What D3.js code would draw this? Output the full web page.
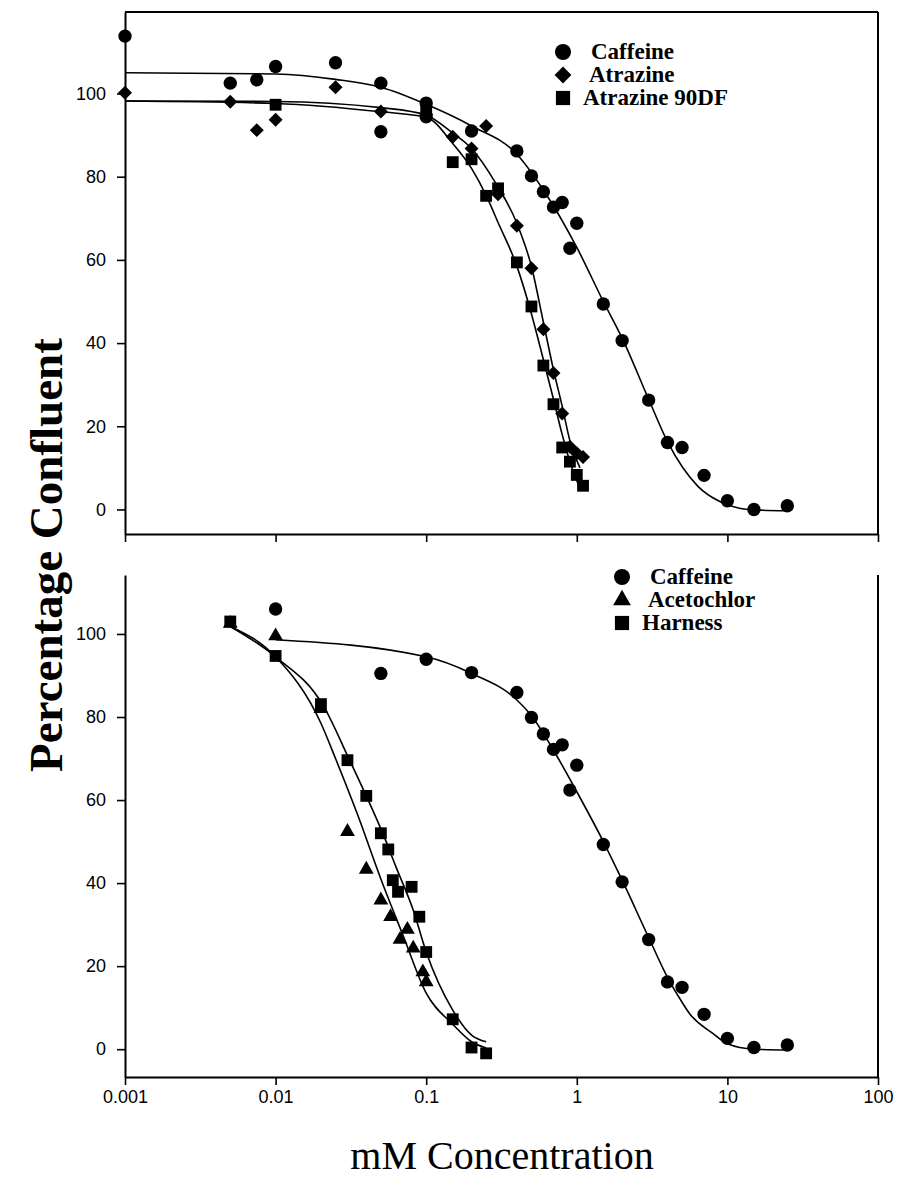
<!DOCTYPE html>
<html>
<head>
<meta charset="utf-8">
<script src="https://cdn.jsdelivr.net/npm/d3@7/dist/d3.min.js"></script>
<style>
  body { margin: 0; background: #fff; }
  svg { display: block; }
  .axis .domain { stroke: #000; stroke-width: 2; }
  .axis .tick line { stroke: #000; stroke-width: 1.6; }
  .axis .tick text { font-family: 'Liberation Sans', Arial, sans-serif; font-size: 18px; fill: #000; }
  .border { stroke: #000; stroke-width: 2; fill: none; }
  .fit { fill: none; stroke: #000; stroke-width: 1.6; }
  .legend text { font-family: 'Liberation Serif', 'Times New Roman', serif; font-weight: bold; font-size: 23px; fill: #000; }
  .title { font-family: 'Liberation Serif', 'Times New Roman', serif; fill: #000; }
</style>
</head>
<body>
<div id="chart"></div>
<script>
// axis ticks
const xTicks = [0.001, 0.01, 0.1, 1, 10, 100]
const xTickLabels = ['0.001', '0.01', '0.1', '1', '10', '100']
const yTicks = [0, 20, 40, 60, 80, 100]

// top panel: [mM, % confluent]
const topCaffeine = [[0.001, 113.8], [0.005, 102.5], [0.0075, 103.3], [0.01, 106.5], [0.025, 107.4],
	[0.05, 102.5], [0.05, 90.8], [0.1, 97.7], [0.1, 94.4], [0.2, 91.0], [0.4, 86.2], [0.5, 80.2],
	[0.6, 76.4], [0.7, 72.7], [0.8, 73.8], [0.9, 62.8], [1, 68.8], [1.5, 49.4], [2, 40.6], [3, 26.3],
	[4, 16.1], [5, 14.9], [7, 8.2], [10, 2.1], [15, 0], [25, 0.9]]
const topAtrazine = [[0.001, 100.2], [0.005, 98], [0.0075, 91.2], [0.01, 93.7], [0.025, 101.5],
	[0.05, 95.7], [0.1, 95], [0.15, 89.6], [0.2, 86.8], [0.25, 92.2], [0.3, 75.8], [0.4, 68.2],
	[0.5, 58], [0.6, 43.3], [0.7, 32.8], [0.8, 23.1], [0.9, 15.1], [1.0, 13.5], [1.1, 12.6]]
const topAtrazine90DF = [[0.01, 97.3], [0.1, 96], [0.15, 83.5], [0.2, 84.2], [0.25, 75.4], [0.3, 77.2],
	[0.4, 59.4], [0.5, 48.8], [0.6, 34.6], [0.7, 25.3], [0.8, 14.9], [0.9, 11.5], [1.0, 8.3], [1.1, 5.7]]

// fitted curves
const topCaffeineFit = [[0.001, 105], [0.01, 104.7], [0.025, 103.4], [0.05, 101.5], [0.1, 97.4],
	[0.2, 92.2], [0.4, 85.4], [0.6, 76.8], [1, 63], [1.5, 50], [2, 41.2], [3, 26.5], [4, 16.3],
	[6.4, 5.5], [8.9, 1.9], [12, 0.3], [15, -0.1], [25, -0.3]]
const topAtrazineFit = [[0.001, 98.2], [0.01, 98.1], [0.05, 96.6], [0.1, 94.8], [0.15, 90.5],
	[0.2, 86.8], [0.29, 78.4], [0.4, 68.8], [0.5, 58.4], [0.6, 45], [0.7, 33.6], [0.8, 24.8],
	[0.9, 16.5], [1.05, 10]]
const topAtrazine90DFFit = [[0.001, 98.2], [0.01, 97.6], [0.05, 95.6], [0.1, 94.3], [0.15, 88],
	[0.2, 82], [0.25, 75.5], [0.3, 69], [0.4, 58.5], [0.5, 47], [0.6, 36], [0.7, 26.5], [0.8, 18],
	[0.9, 11.5], [1.05, 5]]

// bottom panel
const bottomCaffeine = [[0.01, 106], [0.05, 90.5], [0.1, 93.9], [0.2, 90.7], [0.4, 85.9], [0.5, 79.9],
	[0.6, 75.9], [0.7, 72.2], [0.8, 73.3], [0.9, 62.4], [1, 68.4], [1.5, 49.3], [2, 40.3], [3, 26.4],
	[4, 16.2], [5, 14.9], [7, 8.4], [10, 2.6], [15, 0.4], [25, 1]]
const bottomAcetochlor = [[0.005, 102.5], [0.01, 99.5], [0.02, 82], [0.03, 52.4], [0.04, 43.3],
	[0.05, 35.9], [0.058, 31.9], [0.067, 26.4], [0.075, 28.8], [0.082, 24.3], [0.095, 18.6], [0.1, 16.2]]
const bottomHarness = [[0.005, 103], [0.01, 94.7], [0.02, 83.1], [0.03, 69.6], [0.04, 61], [0.05, 52],
	[0.056, 48.1], [0.06, 40.7], [0.065, 37.9], [0.08, 39.1], [0.09, 31.9], [0.1, 23.4], [0.15, 7.2],
	[0.2, 0.4], [0.25, -1]]

const bottomCaffeineFit = [[0.01, 98.6], [0.1, 94.5], [0.2, 90.5], [0.4, 84.1], [0.5, 80.3], [0.7, 72],
	[1, 62], [1.5, 50], [2, 40.7], [3, 26.9], [4, 17.3], [5, 11.3], [5.6, 8.6], [8, 3.8], [10, 1.3],
	[15, 0], [25, -0.2]]
const bottomAcetochlorFit = [[0.005, 101.8], [0.01, 94.5], [0.02, 78.5], [0.025, 70], [0.035, 56.5],
	[0.05, 41], [0.07, 27.5], [0.1, 13.5], [0.15, 6], [0.2, 1.8], [0.25, 0.3]]
const bottomHarnessFit = [[0.005, 101.8], [0.01, 94.5], [0.0206, 82.9], [0.031, 69.6], [0.04, 61],
	[0.052, 51.6], [0.063, 43.9], [0.082, 33.5], [0.1, 23.4], [0.15, 9.4], [0.2, 3.4], [0.25, 1.8]]

const topLegend = ['Caffeine', 'Atrazine', 'Atrazine 90DF']
const bottomLegend = ['Caffeine', 'Acetochlor', 'Harness']

const width = 902
const height = 1178

const scaleX = d3.scaleLog().domain([0.001, 100]).range([125, 878])
const scaleYTop = d3.scaleLinear().domain([-5.9, 119.6]).range([534, 12])
const scaleYBottom = d3.scaleLinear().domain([-6.7, 114.2]).range([1077, 575])

const markers = {
	circle: { path: d3.symbol(d3.symbolCircle, 140)(), rotate: 0 },
	diamond: { path: d3.symbol(d3.symbolSquare, 98)(), rotate: 45 },
	square: { path: d3.symbol(d3.symbolSquare, 140)(), rotate: 0 },
	triangle: { path: d3.symbol(d3.symbolTriangle, 95)(), rotate: 0 },
}

const svg = d3.select('#chart').append('svg')
	.attr('width', width)
	.attr('height', height)

function translate(x, y) {
	return `translate(${x}, ${y})`
}

function drawPanel({ scaleY, series, fits, legend, legendPos, showLabels, topBorder }) {
	const [x0, x1] = scaleX.range()
	const [yBottom, yTop] = scaleY.range()
	const g = svg.append('g')

	const axisLeft = d3.axisLeft(scaleY)
		.tickValues(yTicks)
		.tickSize(8)
		.tickSizeOuter(0)
		.tickPadding(11)

	const axisBottom = d3.axisBottom(scaleX)
		.tickValues(xTicks)
		.tickSize(8)
		.tickSizeOuter(0)
		.tickPadding(5)
		.tickFormat((d, i) => showLabels ? xTickLabels[i] : '')

	g.append('g')
		.attr('class', 'axis axis--y')
		.attr('transform', translate(x0, 0))
		.call(axisLeft)

	g.append('g')
		.attr('class', 'axis axis--x')
		.attr('transform', translate(0, yBottom))
		.call(axisBottom)

	g.append('line')
		.attr('class', 'border')
		.attr('x1', x1).attr('x2', x1)
		.attr('y1', yTop).attr('y2', yBottom)

	if (topBorder) {
		g.append('line')
			.attr('class', 'border')
			.attr('x1', x0).attr('x2', x1)
			.attr('y1', yTop).attr('y2', yTop)
	}

	const line = d3.line()
		.x(d => scaleX(d[0]))
		.y(d => scaleY(d[1]))
		.curve(d3.curveMonotoneX)

	g.selectAll('.fit')
		.data(fits)
		.enter().append('path')
		.attr('class', 'fit')
		.attr('d', line)

	series.forEach(s => {
		const m = markers[s.shape]
		g.selectAll(null)
			.data(s.values)
			.enter().append('path')
			.attr('d', m.path)
			.attr('transform', d => `${translate(scaleX(d[0]), scaleY(d[1]))} rotate(${m.rotate})`)
			.attr('fill', '#000')
	})

	const lg = g.append('g')
		.attr('class', 'legend')
		.attr('transform', translate(legendPos[0], legendPos[1]))

	const item = lg.selectAll('.item')
		.data(legend)
		.enter().append('g')
		.attr('class', 'item')
		.attr('transform', (d, i) => translate(0, i * 23))

	item.append('path')
		.attr('d', (d, i) => markers[series[i].shape].path)
		.attr('transform', (d, i) => `scale(1.2) rotate(${markers[series[i].shape].rotate})`)
		.attr('fill', '#000')

	item.append('text')
		.attr('x', (d, i) => i === 0 ? 28 : (series[i].shape === 'square' ? 20 : 26))
		.attr('y', 7)
		.text(d => d)
}

drawPanel({
	scaleY: scaleYTop,
	series: [
		{ shape: 'circle', values: topCaffeine },
		{ shape: 'diamond', values: topAtrazine },
		{ shape: 'square', values: topAtrazine90DF },
	],
	fits: [topCaffeineFit, topAtrazineFit, topAtrazine90DFFit],
	legend: topLegend,
	legendPos: [563, 52],
	showLabels: false,
	topBorder: true,
})

drawPanel({
	scaleY: scaleYBottom,
	series: [
		{ shape: 'circle', values: bottomCaffeine },
		{ shape: 'triangle', values: bottomAcetochlor },
		{ shape: 'square', values: bottomHarness },
	],
	fits: [bottomCaffeineFit, bottomAcetochlorFit, bottomHarnessFit],
	legend: bottomLegend,
	legendPos: [622, 577],
	showLabels: true,
	topBorder: false,
})

svg.append('text')
	.attr('class', 'title')
	.attr('x', 502)
	.attr('y', 1169)
	.attr('text-anchor', 'middle')
	.style('font-size', '40px')
	.text('mM Concentration')

svg.append('text')
	.attr('class', 'title')
	.attr('transform', `${translate(62, 555)} rotate(-90)`)
	.attr('text-anchor', 'middle')
	.style('font-size', '47px')
	.style('font-weight', 'bold')
	.text('Percentage Confluent')
</script>
</body>
</html>
